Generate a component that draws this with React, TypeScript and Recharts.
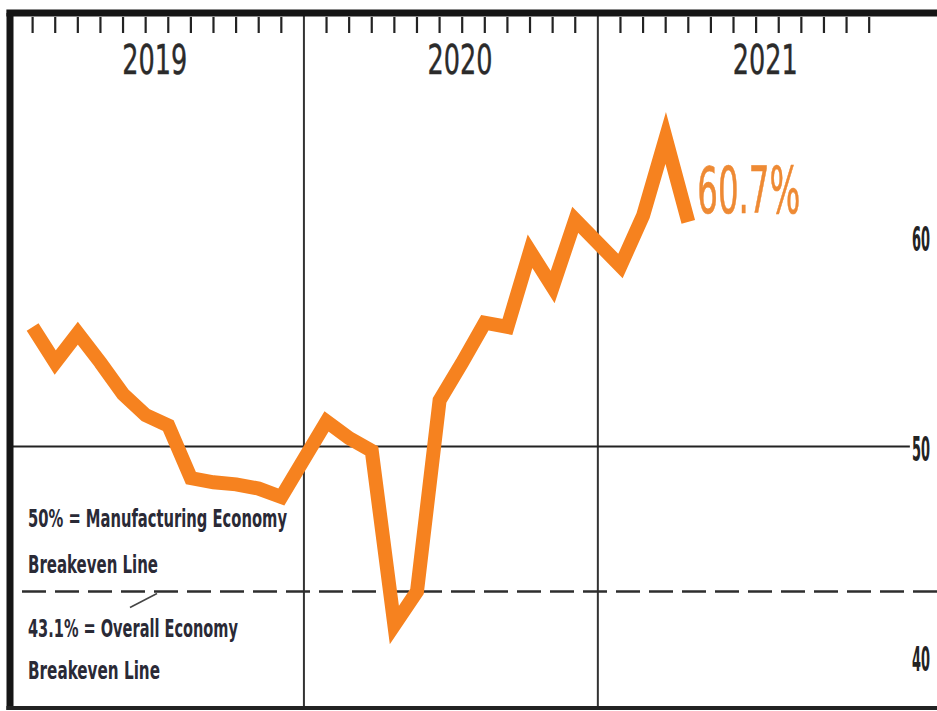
import React from 'react'
import { LineChart, Line, XAxis, YAxis, ReferenceLine } from 'recharts'

const years = ['2019', '2020', '2021']
const pmi2019 = [55.7, 54.0, 55.4, 54.0, 52.5, 51.5, 51.0, 48.5, 48.3, 48.2, 48.0, 47.6]
const pmi2020 = [51.2, 50.4, 49.8, 41.5, 43.1, 52.2, 54.0, 55.9, 55.7, 59.3, 57.6, 60.8]
const pmi2021 = [58.6, 61.0, 64.7, 60.7]
const valueTicks = [40, 50, 60]
const manufacturingBreakeven = 50
const overallBreakeven = 43.1

// every year gets 13 slots on the x axis: 12 months plus the divider gap
const SLOTS_PER_YEAR = 13
const data = [pmi2019, pmi2020, pmi2021].flatMap((vals, k) =>
  vals.map((pmi, m) => ({ slot: k * SLOTS_PER_YEAR + m, pmi }))
)
const monthSlots = years.flatMap((_, k) =>
  Array.from({ length: 12 }, (_, m) => k * SLOTS_PER_YEAR + m)
)
const yearDividers = years.slice(1).map((_, k) => (k + 1) * SLOTS_PER_YEAR - 1)
const yearLabelSlots = [5.4, 18.9, 32.4]

const X_DOMAIN: [number, number] = [-1, 40]
const Y_DOMAIN: [number, number] = [37.55, 70.65]

const ORANGE = '#F6821F'
const INK = '#232323'
const NARROW = '"Liberation Sans Narrow", "DejaVu Sans Condensed", "Liberation Sans", sans-serif'

const renderYearTick = (p: any) => {
  const i = yearLabelSlots.indexOf(p.payload.value)
  return (
    <text x={p.x} y={p.y + 31} textAnchor="middle" fontFamily={NARROW} fontSize={40}
      fill="#2b2b2b" stroke="#2b2b2b" strokeWidth={0.4} textLength={65}
      lengthAdjust="spacingAndGlyphs">
      {years[i]}
    </text>
  )
}

const renderValueTick = (p: any) => (
  <text x={p.x - 5} y={p.y + 2} textAnchor="end" dominantBaseline="central" fontFamily={NARROW}
    fontWeight="bold" fontSize={34} fill={INK} textLength={18} lengthAdjust="spacingAndGlyphs">
    {p.payload.value}
  </text>
)

// month tick marks: a short heavy stroke hanging from the top rule, no label
const renderMonthTick = (p: any) => (
  <line x1={p.x} y1={17} x2={p.x} y2={33} stroke={INK} strokeWidth={2.2} />
)

const noteStyle = {
  fontFamily: NARROW,
  fontWeight: 'bold' as const,
  fontSize: 25,
  fill: '#2a2a36',
}

const renderManufacturingNote = (p: any) => {
  const { x, y } = p.viewBox
  return (
    <g>
      <text x={x + 18} y={y + 80} {...noteStyle} textLength={259} lengthAdjust="spacingAndGlyphs">
        50% = Manufacturing Economy
      </text>
      <text x={x + 18} y={y + 126} {...noteStyle} textLength={130} lengthAdjust="spacingAndGlyphs">
        Breakeven Line
      </text>
    </g>
  )
}

const renderOverallNote = (p: any) => {
  const { x, y } = p.viewBox
  return (
    <g>
      <line x1={x + 120} y1={y + 16} x2={x + 147} y2={y + 2} stroke="#444" strokeWidth={1.5} />
      <text x={x + 18} y={y + 46} {...noteStyle} textLength={210} lengthAdjust="spacingAndGlyphs">
        43.1% = Overall Economy
      </text>
      <text x={x + 18} y={y + 88} {...noteStyle} textLength={132} lengthAdjust="spacingAndGlyphs">
        Breakeven Line
      </text>
    </g>
  )
}

// only the latest reading gets a value label
const renderLatestLabel = (p: any) => {
  if (p.index !== data.length - 1) return null
  return (
    <text x={p.x + 9} y={p.y - 9} fontFamily={NARROW} fontSize={64} fill="#EE8A34"
      stroke="#EE8A34" strokeWidth={0.6} textLength={103} lengthAdjust="spacingAndGlyphs">
      {p.value}%
    </text>
  )
}

export default function App() {
  return (
    <div style={{ position: 'absolute', left: 0, top: 0, width: 937, height: 711, background: '#fff' }}>
      <LineChart width={937} height={711} data={data} margin={{ top: 13, right: 0, bottom: 3, left: 10 }}>
        <XAxis dataKey="slot" type="number" domain={X_DOMAIN} allowDataOverflow hide />
        <XAxis xAxisId="months" dataKey="slot" type="number" domain={X_DOMAIN} allowDataOverflow
          orientation="top" mirror ticks={monthSlots} interval={0} axisLine={false}
          tickLine={false} tickSize={0} tickMargin={0} tick={renderMonthTick} />
        <XAxis xAxisId="years" dataKey="slot" type="number" domain={X_DOMAIN} allowDataOverflow
          orientation="top" mirror ticks={yearLabelSlots} interval={0} axisLine={false}
          tickLine={false} tickSize={0} tickMargin={0} tick={renderYearTick} />
        <YAxis type="number" domain={Y_DOMAIN} allowDataOverflow orientation="right" mirror
          ticks={valueTicks} interval={0} axisLine={false} tickLine={false} tickSize={0}
          tickMargin={2} tick={renderValueTick} />

        {yearDividers.map((s) => (
          <ReferenceLine key={s} x={s} stroke="#333" strokeWidth={2} ifOverflow="visible" />
        ))}
        <ReferenceLine
          segment={[{ x: -1, y: manufacturingBreakeven }, { x: 38.8, y: manufacturingBreakeven }]}
          stroke={INK} strokeWidth={2} ifOverflow="visible" label={renderManufacturingNote} />
        <ReferenceLine y={overallBreakeven} stroke="#2e2e2e" strokeWidth={2.5}
          strokeDasharray="24 9" ifOverflow="visible" label={renderOverallNote} />

        <Line type="linear" dataKey="pmi" stroke={ORANGE} strokeWidth={14} dot={false}
          activeDot={false} strokeLinejoin="miter" strokeMiterlimit={10}
          isAnimationActive={false} label={renderLatestLabel} />

        {/* frame: heavy top and left rules, lighter bottom rule */}
        <ReferenceLine segment={[{ x: -1.16, y: Y_DOMAIN[1] }, { x: 40, y: Y_DOMAIN[1] }]}
          stroke="#151515" strokeWidth={7} ifOverflow="visible" />
        <ReferenceLine segment={[{ x: -1, y: Y_DOMAIN[1] }, { x: -1, y: Y_DOMAIN[0] - 0.1 }]}
          stroke="#151515" strokeWidth={7} ifOverflow="visible" />
        <ReferenceLine segment={[{ x: -1.16, y: Y_DOMAIN[0] }, { x: 40, y: Y_DOMAIN[0] }]}
          stroke="#222" strokeWidth={4} ifOverflow="visible" />
      </LineChart>
    </div>
  )
}
